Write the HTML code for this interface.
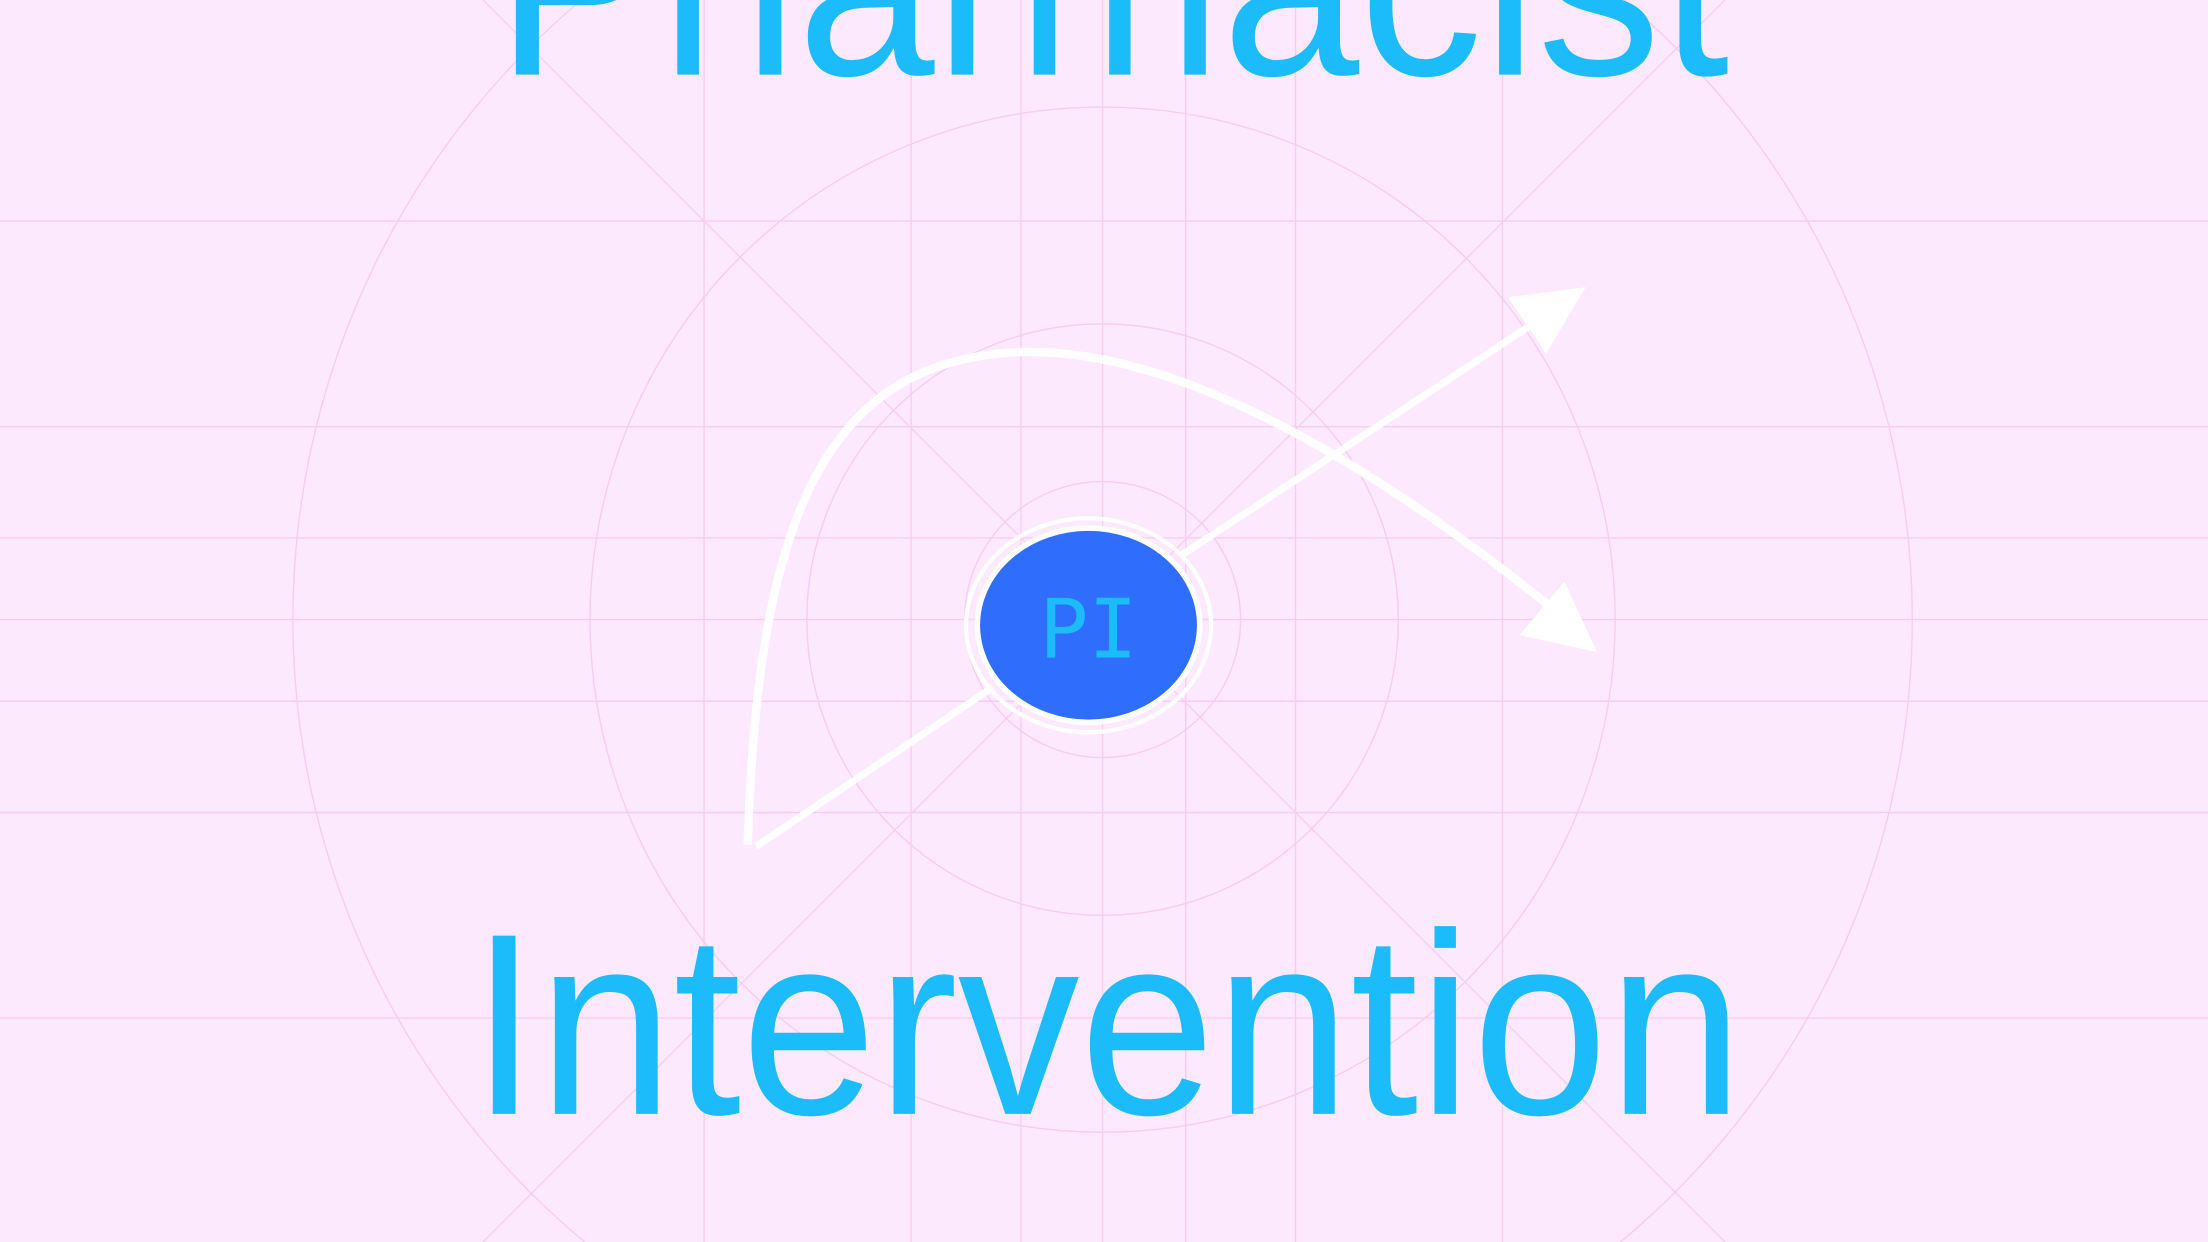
<!DOCTYPE html>
<html>
<head>
<meta charset="utf-8">
<style>
html,body{margin:0;padding:0;background:#fde9fd;width:2208px;height:1242px;overflow:hidden;}
svg{display:block;}
</style>
</head>
<body>
<svg width="2208" height="1242" viewBox="0 0 1568 882" xmlns="http://www.w3.org/2000/svg">
  <rect x="0" y="0" width="1568" height="882" fill="#fde9fd"/>
  <g stroke="#f6cdf0" stroke-width="1" fill="none">
    <line x1="0" y1="157" x2="1568" y2="157"/>
    <line x1="0" y1="303" x2="1568" y2="303"/>
    <line x1="0" y1="382" x2="1568" y2="382"/>
    <line x1="0" y1="440" x2="1568" y2="440"/>
    <line x1="0" y1="498" x2="1568" y2="498"/>
    <line x1="0" y1="577" x2="1568" y2="577"/>
    <line x1="0" y1="723" x2="1568" y2="723"/>
    <line x1="500" y1="0" x2="500" y2="882"/>
    <line x1="647" y1="0" x2="647" y2="882"/>
    <line x1="725" y1="0" x2="725" y2="882"/>
    <line x1="783" y1="0" x2="783" y2="882"/>
    <line x1="842" y1="0" x2="842" y2="882"/>
    <line x1="920" y1="0" x2="920" y2="882"/>
    <line x1="1067" y1="0" x2="1067" y2="882"/>
    <line x1="343" y1="0" x2="1225" y2="882"/>
    <line x1="1225" y1="0" x2="343" y2="882"/>
    <circle cx="783" cy="440" r="98"/>
    <circle cx="783" cy="440" r="210"/>
    <circle cx="783" cy="440" r="364"/>
    <circle cx="783" cy="440" r="575"/>
  </g>
  <text x="790" y="53" text-anchor="middle" font-family="'Liberation Sans', sans-serif" font-size="184" fill="#1bbcf9" textLength="876" lengthAdjust="spacingAndGlyphs">Pharmacist</text>
  <text x="786" y="791" text-anchor="middle" font-family="'Liberation Sans', sans-serif" font-size="184" fill="#1bbcf9" textLength="904" lengthAdjust="spacingAndGlyphs">Intervention</text>
  <g stroke="#ffffff" fill="none" stroke-linecap="butt">
    <path d="M531,600 C538,360 590,255 725,250 C830,247 960,318 1100,430" stroke-width="6"/>
    <line x1="537" y1="601" x2="705" y2="488" stroke-width="5"/>
    <line x1="838" y1="395" x2="1087" y2="231" stroke-width="5"/>
  </g>
  <polygon points="1126,204 1071,211 1098,251" fill="#ffffff"/>
  <polygon points="1134,463 1079,451 1111,413" fill="#ffffff"/>
  <ellipse cx="773" cy="444" rx="87" ry="76" fill="none" stroke="#ffffff" stroke-width="3"/>
  <ellipse cx="773" cy="444" rx="79" ry="69" fill="#2f6efc" stroke="#ffffff" stroke-width="4"/>
  <text x="773" y="467" text-anchor="middle" font-family="'DejaVu Sans Mono', 'Liberation Mono', monospace" font-size="58" fill="#1bbcf9">PI</text>
</svg>
</body>
</html>
